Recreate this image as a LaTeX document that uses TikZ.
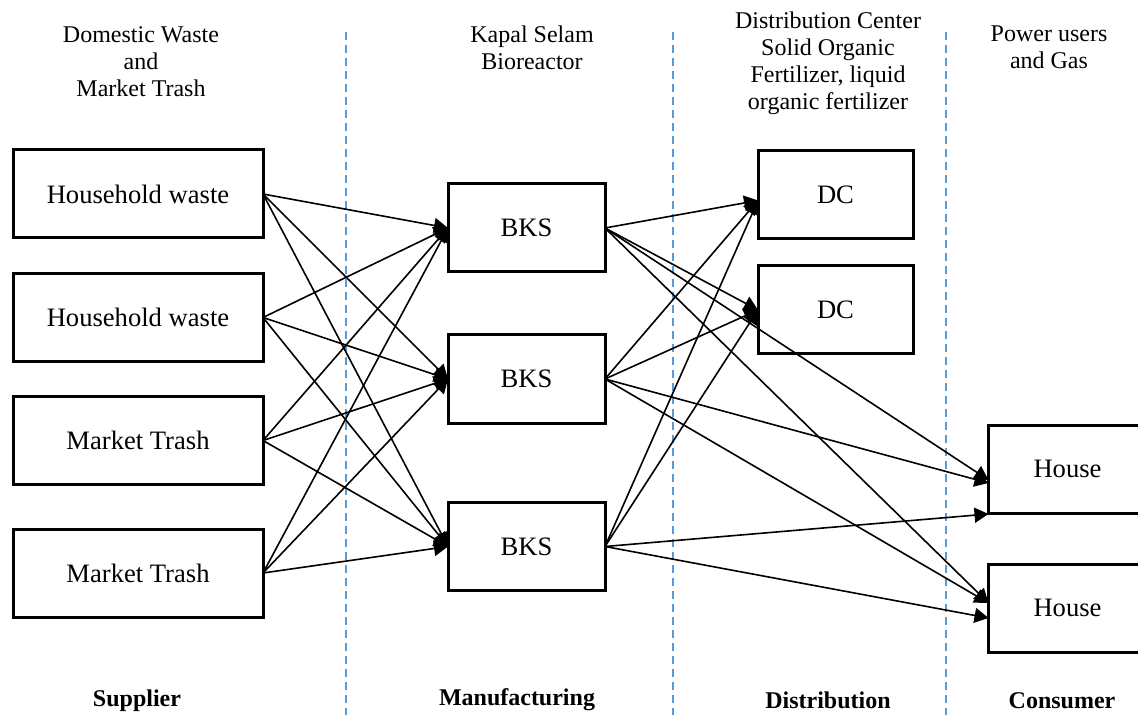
\documentclass[tikz,border=0pt]{standalone}
\usepackage{fontspec}
\setmainfont{Liberation Serif}
\usetikzlibrary{arrows.meta}
\definecolor{chainGuide}{HTML}{5B9BD5}
\tikzset{
  chain diagram/.style={
    x=0.5pt, y=-0.5pt, line width=0.8pt,
    >={Triangle[length=7pt,width=7.5pt]},
    every node/.style={inner sep=0pt, outer sep=0pt}
  },
  chain box/.style={draw, line width=1.5pt, minimum height=44pt,
    font=\fontsize{13.3}{16}\selectfont},
  chain wide/.style={chain box, minimum width=125pt},
  chain narrow/.style={chain box, minimum width=78.5pt},
  chain link/.style={->, line width=0.8pt},
  chain guide/.style={draw=chainGuide, line width=1pt, dash pattern=on 4pt off 2.5pt},
  chain head/.style={anchor=north, align=center, font=\fontsize{12}{13.4}\selectfont},
  chain stage/.style={anchor=base, font=\fontsize{12}{14}\selectfont\bfseries}
}
\newcommand{\ChainGuide}[1]{%
  \draw[chain guide] (#1,32) -- (#1,715);
}

\begin{document}
\begin{tikzpicture}[chain diagram]
    \useasboundingbox (0,0) rectangle (1138,715);
    \ChainGuide{346}
    \ChainGuide{673}
    \ChainGuide{946}
    % column titles
    \node[chain head] (hsup) at (141,27) {Domestic Waste\\and\\Market Trash};
    \node[chain head] (hman) at (532,26) {Kapal Selam\\Bioreactor};
    \node[chain head] (hdis) at (828,12) {Distribution Center\\Solid Organic\\Fertilizer, liquid\\organic fertilizer};
    \node[chain head] (hcon) at (1049,26) {Power users\\and Gas};
    % suppliers
    \node[chain wide] (s1) at (138,194) {Household waste};
    \node[chain wide] (s2) at (138,317.5) {Household waste};
    \node[chain wide] (s3) at (138,440.5) {Market Trash};
    \node[chain wide] (s4) at (138,573) {Market Trash};
    % bioreactors
    \node[chain narrow] (b1) at (526.5,228) {BKS};
    \node[chain narrow] (b2) at (526.5,379) {BKS};
    \node[chain narrow] (b3) at (526.5,546.5) {BKS};
    % distribution centres
    \node[chain narrow, minimum width=77.5pt] (d1) at (835.5,194.5) {DC};
    \node[chain narrow, minimum width=77.5pt] (d2) at (835.5,310) {DC};
    % consumers
    \node[chain narrow, minimum width=79pt] (h1) at (1067.5,469) {House};
    \node[chain narrow, minimum width=79pt] (h2) at (1067.5,608) {House};
    % stage labels
    \node[chain stage] (lsup) at (137,706) {Supplier};
    \node[chain stage] (lman) at (517,705) {Manufacturing};
    \node[chain stage] (ldis) at (828,708) {Distribution};
    \node[chain stage] (lcon) at (1062,708) {Consumer};
    % supplier -> bioreactor
    \draw[chain link] (s1.east) -- (b1.west);
    \draw[chain link] (s1.east) -- (b2.west);
    \draw[chain link] (s1.east) -- (b3.west);
    \draw[chain link] (s2.east) -- (b1.west);
    \draw[chain link] (s2.east) -- (b2.west);
    \draw[chain link] (s2.east) -- (b3.west);
    \draw[chain link] (s3.east) -- (b1.west);
    \draw[chain link] (s3.east) -- (b2.west);
    \draw[chain link] (s3.east) -- (b3.west);
    \draw[chain link] (s4.east) -- (b1.west);
    \draw[chain link] (s4.east) -- (b2.west);
    \draw[chain link] (s4.east) -- (b3.west);
    % bioreactor -> DC and house
    \draw[chain link] (b1.east) -- ([yshift=-3pt]d1.west);
    \draw[chain link] (b1.east) -- (d2.west);
    \draw[chain link] (b1.east) -- ([yshift=-5.5pt]h1.west);
    \draw[chain link] (b1.east) -- ([yshift=2.5pt]h2.west);
    \draw[chain link] (b2.east) -- ([yshift=-3pt]d1.west);
    \draw[chain link] (b2.east) -- (d2.west);
    \draw[chain link] (b2.east) -- ([yshift=-7pt]h1.west);
    \draw[chain link] (b2.east) -- ([yshift=2.5pt]h2.west);
    \draw[chain link] (b3.east) -- ([yshift=-3pt]d1.west);
    \draw[chain link] (b3.east) -- (d2.west);
    \draw[chain link] (b3.east) -- ([yshift=-22.5pt]h1.west);
    \draw[chain link] (b3.east) -- ([yshift=-5pt]h2.west);
  \end{tikzpicture}
\end{document}
